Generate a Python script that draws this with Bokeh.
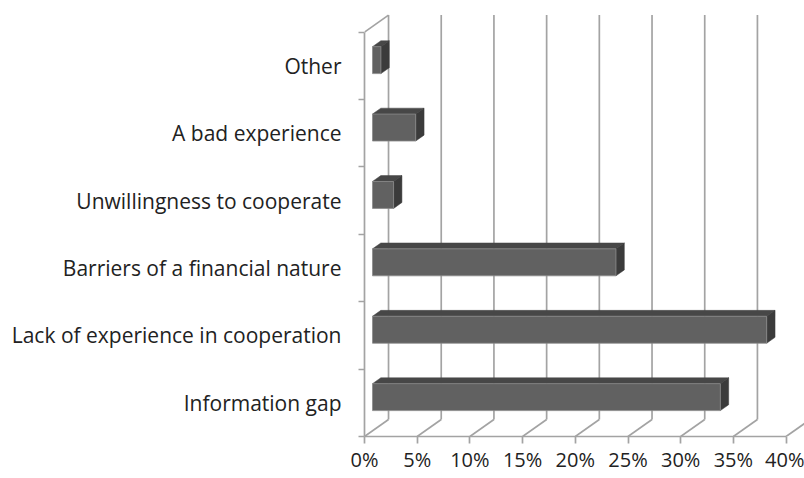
from bokeh.plotting import figure
from bokeh.models import Range1d, FixedTicker, PrintfTickFormatter
from bokeh.embed import file_html
from bokeh.resources import INLINE

# ---- data ----
categories = ["Information gap", "Lack of experience in cooperation",
              "Barriers of a financial nature", "Unwillingness to cooperate",
              "A bad experience", "Other"]
values = [33.0, 37.4, 23.1, 2.0, 4.1, 0.8]
x_ticks = [0, 5, 10, 15, 20, 25, 30, 35, 40]

# ---- 3D oblique style (in data units) ----
DX = 2.28     # full depth, x offset (percent units)
DY = 0.252    # full depth, y offset (category units)
ZF, ZB = 0.333, 0.68   # bar front/back depth fraction
B0, B1 = 0.3, 0.7      # bar extent inside category band
GRID = "#a3a3a3"
FONT = "Open Sans"
n = len(categories)

W, H = 804, 478
LEFT, BOTTOM = 364, 42
p = figure(width=W, height=H, output_backend="svg", toolbar_location=None,
           x_range=Range1d(0, (W - LEFT) / 10.54),
           y_range=Range1d(0, (H - BOTTOM) / 67.4),
           min_border_left=LEFT, min_border_right=0, min_border_top=0,
           min_border_bottom=BOTTOM)
p.outline_line_color = None
p.xgrid.visible = False
p.ygrid.visible = False
p.background_fill_color = "white"
p.border_fill_color = "white"

# back wall vertical gridlines and floor diagonals
gx0, gy0, gx1, gy1 = [], [], [], []
for t in x_ticks:
    gx0.append(t + DX); gy0.append(DY); gx1.append(t + DX); gy1.append(n + DY)
    gx0.append(t); gy0.append(0); gx1.append(t + DX); gy1.append(DY)
# left wall top edge
gx0.append(0); gy0.append(n); gx1.append(DX); gy1.append(n + DY)
p.segment(x0=gx0, y0=gy0, x1=gx1, y1=gy1, line_color=GRID, line_width=1.7)

# bars
fl, fr, fb, ft = [], [], [], []
txs, tys, rxs, rys = [], [], [], []
for i, v in enumerate(values):
    fl.append(ZF * DX); fr.append(v + ZF * DX)
    fb.append(i + B0 + ZF * DY); ft.append(i + B1 + ZF * DY)
    txs.append([ZF * DX, v + ZF * DX, v + ZB * DX, ZB * DX])
    tys.append([i + B1 + ZF * DY, i + B1 + ZF * DY, i + B1 + ZB * DY, i + B1 + ZB * DY])
    rxs.append([v + ZF * DX, v + ZB * DX, v + ZB * DX, v + ZF * DX])
    rys.append([i + B0 + ZF * DY, i + B0 + ZB * DY, i + B1 + ZB * DY, i + B1 + ZF * DY])

p.patches(xs=txs, ys=tys, fill_color="#474747", line_color="#474747", line_width=0.5)
p.patches(xs=rxs, ys=rys, fill_color="#3b3b3b", line_color="#3b3b3b", line_width=0.5)
p.quad(left=fl, right=fr, bottom=fb, top=ft, fill_color="#616161",
       line_color="#8a8a8a", line_width=0.8)

# x axis (floor front edge)
xa = p.xaxis[0]
xa.ticker = FixedTicker(ticks=x_ticks)
xa.formatter = PrintfTickFormatter(format="%d%%")
xa.bounds = (x_ticks[0], x_ticks[-1])
xa.axis_line_color = GRID
xa.axis_line_width = 1.7
xa.major_tick_line_color = GRID
xa.major_tick_line_width = 1.7
xa.major_tick_out = 7
xa.major_tick_in = 0
xa.minor_tick_line_color = None
xa.major_label_text_font = FONT
xa.major_label_text_font_size = "20px"
xa.major_label_text_color = "#222222"
xa.major_label_standoff = 2

# y axis (left wall front edge)
ya = p.yaxis[0]
ya.ticker = FixedTicker(ticks=[i + 0.5 for i in range(n)],
                        minor_ticks=list(range(n + 1)))
ya.major_label_overrides = {i + 0.5: c for i, c in enumerate(categories)}
ya.bounds = (0, n)
ya.axis_line_color = GRID
ya.axis_line_width = 1.7
ya.major_tick_line_color = None
ya.major_tick_out = 0
ya.major_tick_in = 0
ya.minor_tick_line_color = GRID
ya.minor_tick_line_width = 1.7
ya.minor_tick_out = 6
ya.minor_tick_in = 0
ya.major_label_text_font = FONT
ya.major_label_text_font_size = "21px"
ya.major_label_text_color = "#222222"
ya.major_label_standoff = 17

open("out.html", "w").write(file_html(p, INLINE))
